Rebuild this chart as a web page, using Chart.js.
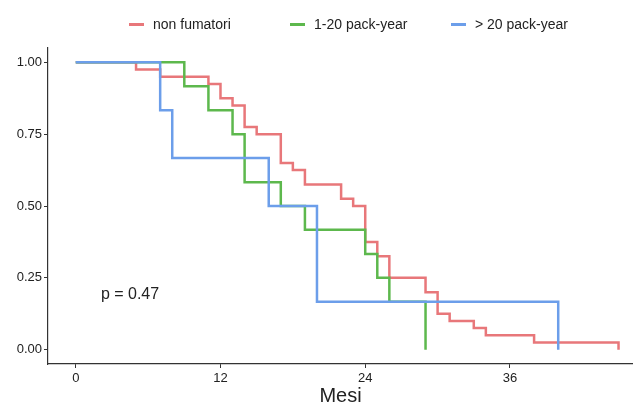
<!DOCTYPE html>
<html>
<head>
<meta charset="utf-8">
<script src="https://cdn.jsdelivr.net/npm/chart.js@4.4.1/dist/chart.umd.min.js"></script>
<style>
html,body{margin:0;padding:0;background:#fff}
#wrap{position:relative;width:633px;height:406px}
.item{position:absolute;top:16px;height:16px;line-height:16px;font:14px "Liberation Sans",Arial,sans-serif;color:#222;white-space:nowrap}
.item i{display:inline-block;width:15px;height:3px;vertical-align:middle;margin:-2px 9px 0 0}
</style>
</head>
<body>
<div id="wrap">
<canvas id="km" width="633" height="406"></canvas>
<div id="legend"></div>
</div>
<script>
// groups + colours
const groups=["non fumatori","1-20 pack-year","> 20 pack-year"]
const colors=["#E8777A","#5DB84D","#6C9EEA"]

// survival steps (months, survival)
const monthsNon=[0,5,7,11,12,13,14,15,17,18,19,22,23,24,25,26,29,30,31,33,34,38,45]
const survNon=[1,0.975,0.95,0.925,0.875,0.85,0.775,0.75,0.65,0.625,0.575,0.525,0.5,0.375,0.325,0.25,0.2,0.125,0.1,0.075,0.05,0.025,0]

const monthsLow=[0,9,11,13,14,17,19,24,25,26,29]
const survLow=[1,0.917,0.833,0.75,0.583,0.5,0.417,0.333,0.25,0.167,0]

const monthsHigh=[0,7,8,16,20,40]
const survHigh=[1,0.833,0.667,0.5,0.167,0]

const xTicks=[0,12,24,36]
const yTicks=[0,0.25,0.5,0.75,1]
const yTickLabels=["0.00","0.25","0.50","0.75","1.00"]
const xTitle="Mesi"
const pText="p = 0.47"

const font='"Liberation Sans", Arial, sans-serif'

// html legend
const legendPos=[129,290,451]
groups.forEach((g,i)=>{
const d=document.createElement("div")
d.className="item"
d.style.left=legendPos[i]+"px"
d.innerHTML='<i style="background:'+colors[i]+'"></i>'
d.appendChild(document.createTextNode(g))
document.getElementById("legend").appendChild(d)
})

function pts(xs,ys){return xs.map((x,i)=>({x:x,y:ys[i]}))}

const pvalPlugin={
id:"pval",
afterDatasetsDraw(chart){
const c=chart.ctx
const x=chart.scales.x.getPixelForValue(4.5)
const y=chart.scales.y.getPixelForValue(0.19)
c.save()
c.font="16px "+font
c.fillStyle="#222"
c.textAlign="center"
c.textBaseline="middle"
c.fillText(pText,x,y)
c.restore()
}
}

new Chart(document.getElementById("km"),{
type:"line",
data:{
datasets:[
{label:groups[0],data:pts(monthsNon,survNon),borderColor:colors[0],order:2},
{label:groups[1],data:pts(monthsLow,survLow),borderColor:colors[1],order:1},
{label:groups[2],data:pts(monthsHigh,survHigh),borderColor:colors[2],order:0}
].map(d=>Object.assign(d,{stepped:true,borderWidth:2.5,pointRadius:0,fill:false,tension:0}))
},
options:{
responsive:false,
animation:false,
layout:{padding:{top:48,left:0,right:0,bottom:0}},
plugins:{legend:{display:false},tooltip:{enabled:false}},
scales:{
x:{
type:"linear",
min:-2.3,
max:46.2,
afterBuildTicks(s){s.ticks=xTicks.map(v=>({value:v}))},
afterFit(s){s.height=42},
grid:{drawOnChartArea:false,drawTicks:true,tickLength:4,color:"#333"},
border:{display:true,color:"#333",width:1.2},
ticks:{color:"#222",font:{family:font,size:13},padding:3,maxRotation:0},
title:{display:true,text:xTitle,color:"#222",font:{family:font,size:20,lineHeight:1},padding:{top:0,bottom:0}}
},
y:{
type:"linear",
min:-0.05,
max:1.05,
afterBuildTicks(s){s.ticks=yTicks.map(v=>({value:v}))},
afterFit(s){s.width=48},
grid:{drawOnChartArea:false,drawTicks:true,tickLength:4,color:"#333"},
border:{display:true,color:"#333",width:1.2},
ticks:{color:"#222",font:{family:font,size:13},padding:2,
callback:(v)=>{const i=yTicks.indexOf(v);return i>=0?yTickLabels[i]:""}}
}
}
},
plugins:[pvalPlugin]
})
</script>
</body>
</html>
